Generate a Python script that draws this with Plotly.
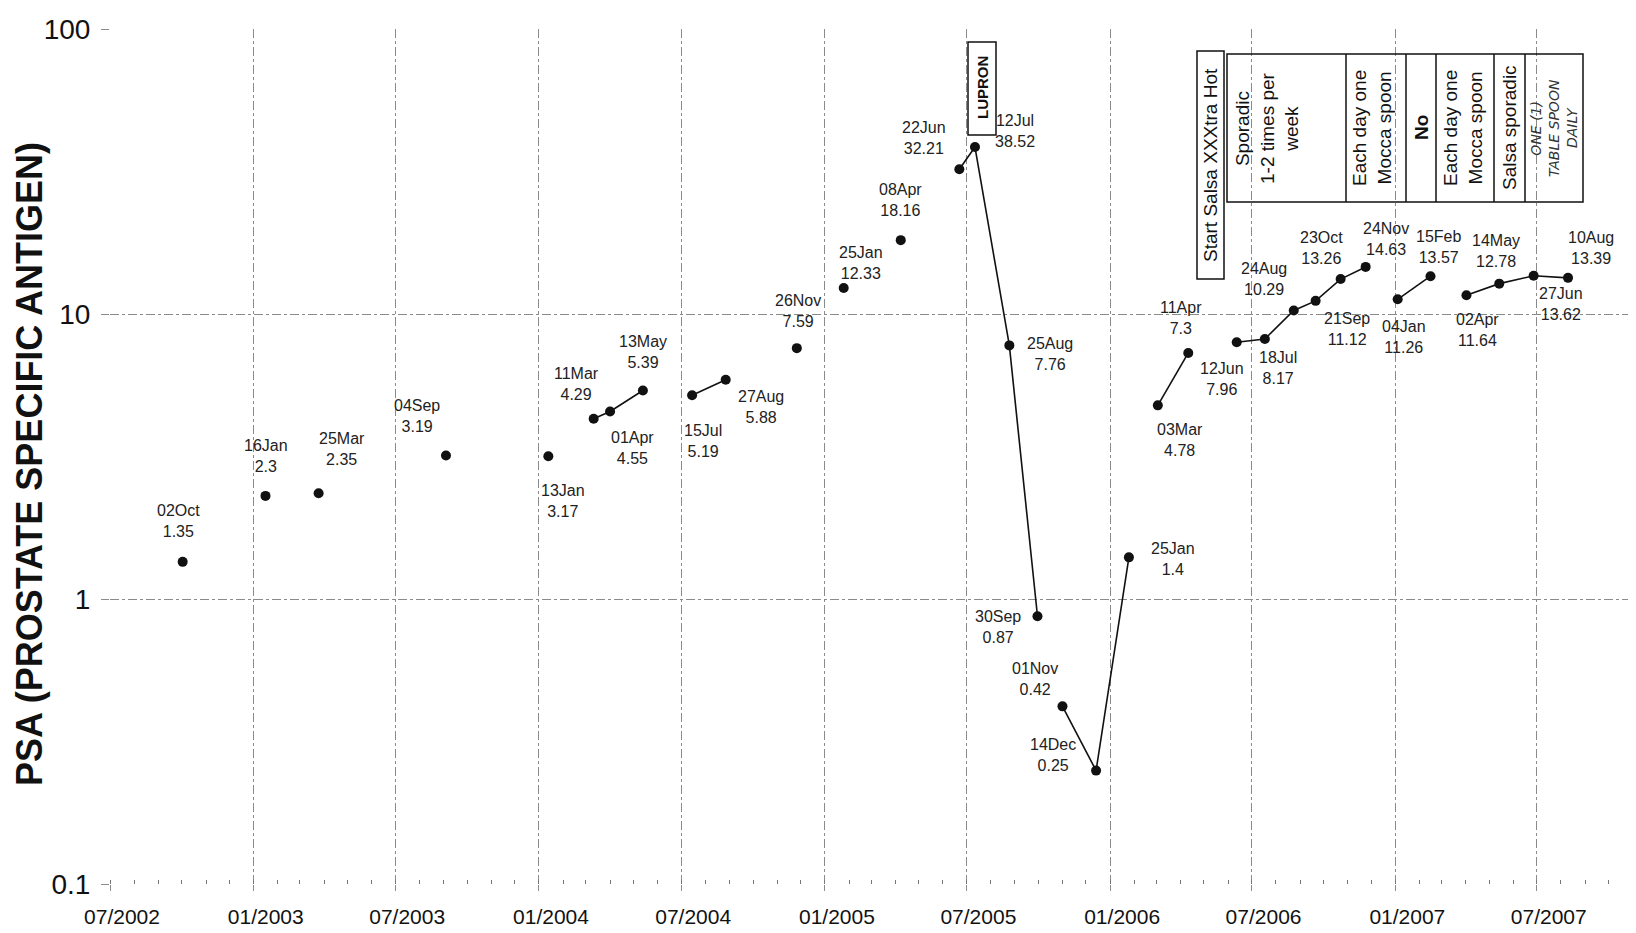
import numpy as np
import pandas as pd
import plotly.graph_objects as go

# ---------------- data ----------------
dates = ["2002-10-02", "2003-01-16", "2003-03-25", "2003-09-04", "2004-01-13",
         "2004-03-11", "2004-04-01", "2004-05-13", "2004-07-15", "2004-08-27",
         "2004-11-26", "2005-01-25", "2005-04-08", "2005-06-22", "2005-07-12",
         "2005-08-25", "2005-09-30", "2005-11-01", "2005-12-14", "2006-01-25",
         "2006-03-03", "2006-04-11", "2006-06-12", "2006-07-18", "2006-08-24",
         "2006-09-21", "2006-10-23", "2006-11-24", "2007-01-04", "2007-02-15",
         "2007-04-02", "2007-05-14", "2007-06-27", "2007-08-10"]
psa = [1.35, 2.3, 2.35, 3.19, 3.17,
       4.29, 4.55, 5.39, 5.19, 5.88,
       7.59, 12.33, 18.16, 32.21, 38.52,
       7.76, 0.87, 0.42, 0.25, 1.4,
       4.78, 7.3, 7.96, 8.17, 10.29,
       11.12, 13.26, 14.63, 11.26, 13.57,
       11.64, 12.78, 13.62, 13.39]
# points sharing a segment id are joined by a line
segment = [0, 1, 2, 3, 4,
           5, 5, 5, 6, 6,
           7, 8, 9, 10, 10,
           10, 10, 11, 11, 11,
           12, 12, 13, 13, 13,
           13, 13, 13, 14, 14,
           15, 15, 15, 15]

y_tick_vals = [0.1, 1, 10, 100]
y_tick_text = ["0.1", "1", "10", "100"]

box_texts = ["Start Salsa XXXtra Hot", "Sporadic<br>1-2 times per<br>week",
             "Each day one<br>Mocca spoon", "<b>No</b>", "Each day one<br>Mocca spoon",
             "Salsa sporadic"]
handwritten = "ONE (1)<br>TABLE SPOON<br>DAILY"
lupron_text = "<b>LUPRON</b>"
y_title = "<b>PSA (PROSTATE SPECIFIC ANTIGEN)</b>"

# ---------------- layout helpers (pixel geometry of the page) ----------------
OFF = 8                      # default page body margin
W, H = 1636 - OFF, 933 - OFF
L, R, T, B = 110 - OFF, 0, 29 - OFF, 49
PW, PH = W - L - R, H - T - B

def px(x):                   # page pixel -> paper fraction
    return (x - OFF - L) / PW

def py(y):
    return (H + OFF - B - y) / PH

# label offsets in screen pixels (dx right, dy down) relative to each point
label_off = [(-4, -41), (1, -40), (23, -44), (-29, -39), (15, 45),
             (-17, -35), (22, 37), (0, -39), (11, 46), (35, 27),
             (1, -37), (17, -25), (0, -40), (-35, -31), (40, -16),
             (41, 9), (-39, 11), (-27, -27), (-43, -16), (44, 2),
             (22, 35), (-7, -35), (-15, 37), (13, 29), (-30, -31),
             (31, 28), (-19, -31), (20, -28), (6, 38), (8, -29),
             (11, 35), (-3, -33), (27, 28), (23, -30)]

# ---------------- build trace ----------------
xs, ys = [], []
prev = None
for d, v, s in zip(dates, psa, segment):
    if prev is not None and s != prev:
        xs.append(None)
        ys.append(None)
    xs.append(d)
    ys.append(v)
    prev = s

FONT = "Arial, 'Liberation Sans', sans-serif"
fig = go.Figure()
fig.add_trace(go.Scatter(
    x=xs, y=ys, mode="lines+markers", connectgaps=False,
    line=dict(color="#111111", width=1.6),
    marker=dict(color="#111111", size=10),
    showlegend=False, hoverinfo="x+y"))

annotations = []
for d, v, (dx, dy) in zip(dates, psa, label_off):
    lab = pd.Timestamp(d).strftime("%d%b")
    annotations.append(dict(
        x=d, y=np.log10(v), xref="x", yref="y", text=f"{lab}<br>{v}",
        showarrow=False, xshift=dx, yshift=-dy, align="center",
        xanchor="center", yanchor="middle",
        font=dict(family=FONT, size=16, color="#222222")))

def rot_note(cx, cy, text, size, family=FONT, color="#111111"):
    return dict(x=px(cx), y=py(cy), xref="paper", yref="paper", text=text,
                textangle=-90, showarrow=False, align="center",
                xanchor="center", yanchor="middle",
                font=dict(family=family, size=size, color=color))

# y axis title
annotations.append(rot_note(29, 464, y_title, 36))

# LUPRON box
shapes = []
line_style = dict(color="#111111", width=1.5)
shapes.append(dict(type="rect", xref="paper", yref="paper",
                   x0=px(968), x1=px(996), y0=py(42), y1=py(135), line=line_style))
annotations.append(rot_note(982, 88, lupron_text, 15))

# salsa / mocca boxes
shapes.append(dict(type="rect", xref="paper", yref="paper",
                   x0=px(1197), x1=px(1224), y0=py(51), y1=py(279), line=line_style))
shapes.append(dict(type="rect", xref="paper", yref="paper",
                   x0=px(1227), x1=px(1583), y0=py(54), y1=py(202), line=line_style))
for xd in [1346, 1406, 1436, 1494, 1525]:
    shapes.append(dict(type="line", xref="paper", yref="paper",
                       x0=px(xd), x1=px(xd), y0=py(54), y1=py(202), line=line_style))

box_centers = [(1210, 165), (1267, 128), (1372, 128), (1421, 128), (1463, 128), (1509, 128)]
for t, (cx, cy) in zip(box_texts, box_centers):
    annotations.append(rot_note(cx, cy, t, 19))
annotations.append(rot_note(1554, 128, f"<i>{handwritten}</i>", 14,
                            family="'DejaVu Sans', sans-serif", color="#333333"))

grid_col = "#8a8a8a"
fig.update_layout(
    width=W, height=H,
    margin=dict(l=L, r=R, t=T, b=B, autoexpand=False),
    paper_bgcolor="white", plot_bgcolor="white",
    annotations=annotations, shapes=shapes,
    xaxis=dict(
        type="date", range=["2002-07-01", "2007-11-05"],
        tick0="2002-07-01", dtick="M6", tickformat="%m/%Y",
        showgrid=True, gridcolor=grid_col, gridwidth=1, griddash="dashdot",
        ticks="outside", ticklen=6, tickcolor=grid_col,
        ticklabelshift=12, ticklabelstandoff=8,
        tickfont=dict(family=FONT, size=21, color="#111111"),
        showline=False, zeroline=False,
        minor=dict(dtick="M1", ticks="inside", ticklen=4, tickcolor="#777777", showgrid=False),
    ),
    yaxis=dict(
        type="log", range=[-1, 2],
        tickvals=y_tick_vals, ticktext=y_tick_text,
        showgrid=True, gridcolor=grid_col, gridwidth=1, griddash="dashdot",
        ticks="outside", ticklen=8, tickcolor=grid_col, ticklabelstandoff=5,
        tickfont=dict(family=FONT, size=28, color="#111111"),
        showline=False, zeroline=False,
    ),
)

fig.write_html("out.html")
